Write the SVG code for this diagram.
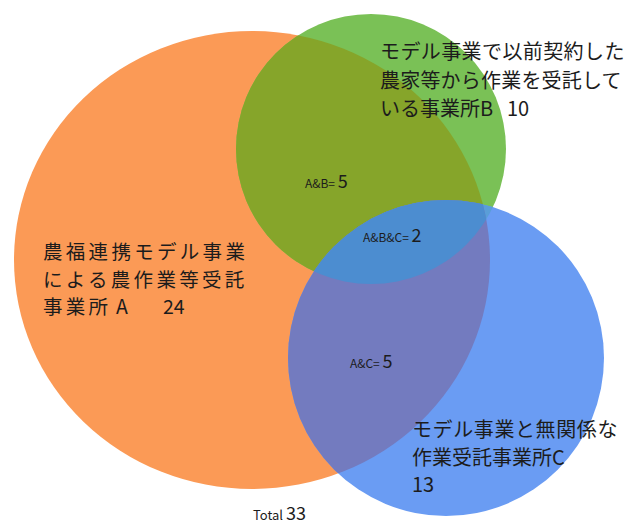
<svg xmlns="http://www.w3.org/2000/svg" width="637" height="524" viewBox="0 0 637 524">
<defs>
<clipPath id="clipA"><ellipse cx="252" cy="260" rx="238" ry="229"/></clipPath>
<clipPath id="clipB"><circle cx="371" cy="149" r="135"/></clipPath>
<style>
.lbl{font-family:"Noto Sans CJK JP","Noto Sans",sans-serif;fill:#1c1c1c}
.big{font-size:20px}
.bigA{font-size:19.5px;letter-spacing:3.3px}
.ns{letter-spacing:0px}
.sm{font-size:12px}
.num{font-size:18px}
</style>
</defs>
<rect width="637" height="524" fill="#ffffff"/>
<g id="circles">
<g id="nodeA"><ellipse cx="252" cy="260" rx="238" ry="229" fill="#FB9A56"/></g>
<g id="nodeB"><circle cx="371" cy="149" r="135" fill="#7AC156"/></g>
<g id="nodeC"><circle cx="446" cy="358" r="158" fill="#6A9CF3"/></g>
<g id="AB" clip-path="url(#clipA)"><circle cx="371" cy="149" r="135" fill="#86A52A"/></g>
<g id="BC" clip-path="url(#clipB)"><circle cx="446" cy="358" r="158" fill="#5A9ED8"/></g>
<g id="AC" clip-path="url(#clipA)"><circle cx="446" cy="358" r="158" fill="#737BBF"/></g>
<g id="ABC" clip-path="url(#clipA)"><g clip-path="url(#clipB)"><circle cx="446" cy="358" r="158" fill="#4C8DD0"/></g></g>
</g>
<g id="labelB" class="lbl big">
<text x="380" y="59" style="letter-spacing:0.4px">モデル事業で以前契約した</text>
<text x="380" y="88" style="letter-spacing:0.2px">農家等から作業を受託して</text>
<text x="380" y="116">いる事業所B<tspan x="507">10</tspan></text>
</g>
<g id="labelA" class="lbl bigA">
<text x="43" y="259">農福連携モデル事業</text>
<text x="43" y="287">による農作業等受託</text>
<text x="43" y="314">事業所<tspan class="ns" x="116">A</tspan><tspan class="ns" x="163">24</tspan></text>
</g>
<g id="labelC" class="lbl big">
<text x="412" y="437" style="letter-spacing:0.6px">モデル事業と無関係な</text>
<text x="412" y="465">作業受託事業所C</text>
<text x="412" y="492">13</text>
</g>
<g id="labelAB" class="lbl"><text x="305" y="188"><tspan class="sm">A&amp;B= </tspan><tspan class="num">5</tspan></text></g>
<g id="labelABC" class="lbl"><text x="363" y="242"><tspan class="sm">A&amp;B&amp;C= </tspan><tspan class="num">2</tspan></text></g>
<g id="labelAC" class="lbl"><text x="350" y="368"><tspan class="sm">A&amp;C= </tspan><tspan class="num">5</tspan></text></g>
<g id="total" class="lbl"><text x="253" y="520"><tspan style="font-size:13px">Total </tspan><tspan class="num">33</tspan></text></g>
</svg>
